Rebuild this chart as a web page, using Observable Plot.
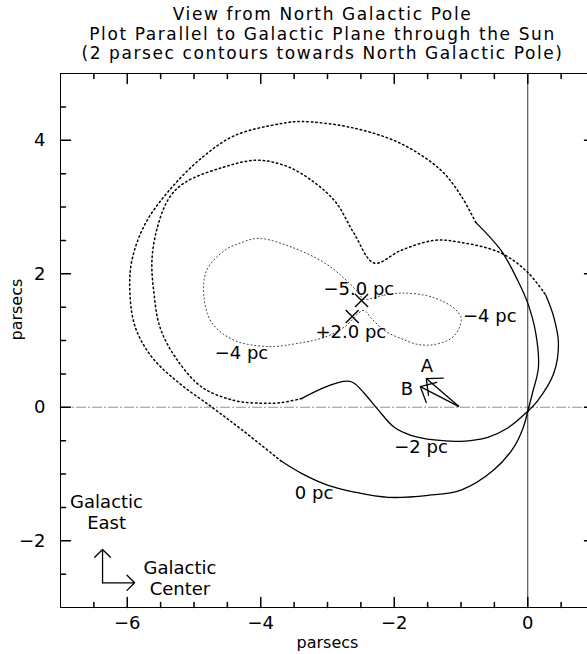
<!DOCTYPE html>
<html><head><meta charset="utf-8">
<script src="https://cdn.jsdelivr.net/npm/d3@7"></script>
<script src="https://cdn.jsdelivr.net/npm/@observablehq/plot@0.6"></script>
<style>
html,body{margin:0;padding:0;background:#fff;overflow:hidden;}
#chart svg{display:block;max-width:none !important;}
</style>
</head><body><div id="chart"></div>
<script>
const titleLines = ["View from North Galactic Pole", "Plot Parallel to Galactic Plane through the Sun", "(2 parsec contours towards North Galactic Pole)"];
const axisLabel = "parsecs";
const xDomain = [-7, 1];
const yDomain = [-3, 5];
const xTickValues = [-6, -4, -2, 0];
const yTickValues = [-2, 0, 2, 4];
const minorStep = 0.5;

// 0 pc contour
const zeroSolidBottom = [[0.00,-0.06],[-0.07,-0.31],[-0.21,-0.60],[-0.51,-0.94],[-1.00,-1.24],[-1.49,-1.32],[-2.09,-1.35],[-2.60,-1.27],[-2.99,-1.17],[-3.39,-0.99],[-3.69,-0.81]];
const zeroDotted = [[-3.69,-0.81],[-4.28,-0.34],[-4.73,0.00],[-5.22,0.36],[-5.63,0.75],[-5.88,1.20],[-5.96,1.71],[-5.93,2.20],[-5.73,2.75],[-5.37,3.25],[-4.88,3.74],[-4.39,4.07],[-3.69,4.25],[-3.39,4.28],[-2.64,4.19],[-1.90,3.95],[-1.30,3.55],[-1.00,3.17],[-0.78,2.77]];
const zeroSolidRight = [[-0.78,2.77],[-0.40,2.35],[-0.15,1.90],[0.00,1.56],[0.12,1.11],[0.16,0.60],[0.07,0.21],[0.00,-0.06]];

// -2 pc contour
const minus2SolidBottom = [[0.00,-0.06],[-0.30,-0.31],[-0.60,-0.45],[-1.00,-0.51],[-1.40,-0.49],[-1.75,-0.42],[-2.00,-0.30],[-2.24,-0.04],[-2.45,0.21],[-2.60,0.36],[-2.69,0.39],[-2.84,0.37],[-3.09,0.28],[-3.39,0.13]];
const minus2Dotted = [[-3.39,0.13],[-3.69,0.07],[-3.99,0.06],[-4.39,0.10],[-4.88,0.30],[-5.28,0.75],[-5.51,1.20],[-5.60,1.71],[-5.63,2.20],[-5.55,2.69],[-5.37,3.14],[-5.13,3.37],[-4.58,3.59],[-4.09,3.70],[-3.73,3.65],[-3.39,3.50],[-2.90,3.10],[-2.60,2.60],[-2.30,2.16],[-1.90,2.35],[-1.40,2.50],[-1.00,2.47],[-0.40,2.31],[0.00,2.02],[0.27,1.68]];
const minus2SolidRight = [[0.27,1.68],[0.39,1.35],[0.46,0.96],[0.39,0.51],[0.15,0.10],[0.00,-0.06]];

// -4 pc contour (closed)
const minus4Contour = [[-2.46,1.62],[-2.15,1.68],[-1.90,1.71],[-1.55,1.68],[-1.30,1.60],[-1.10,1.48],[-1.00,1.35],[-1.03,1.18],[-1.15,1.03],[-1.40,0.94],[-1.64,0.94],[-1.90,1.03],[-2.15,1.15],[-2.34,1.33],[-2.46,1.45],[-2.75,1.20],[-3.04,1.05],[-3.43,0.96],[-3.88,0.91],[-4.39,1.00],[-4.73,1.26],[-4.85,1.65],[-4.81,2.05],[-4.54,2.35],[-4.28,2.47],[-4.03,2.53],[-3.54,2.40],[-3.04,2.16],[-2.75,1.93],[-2.54,1.72]];

const crossMarkers = [[-2.49,1.60],[-2.63,1.36]];
const contourLabels = [
  {text: "−5.0 pc", x: -3.06, y: 1.77},
  {text: "+2.0 pc", x: -3.18, y: 1.12},
  {text: "−4 pc", x: -0.97, y: 1.36},
  {text: "−4 pc", x: -4.69, y: 0.81},
  {text: "−2 pc", x: -2.00, y: -0.60},
  {text: "0 pc", x: -3.49, y: -1.29}
];
const vectorLabels = [{text: "A", x: -1.51, y: 0.61}, {text: "B", x: -1.81, y: 0.27}];
const vectorArrows = [
  {name: "A", x1: -1.03, y1: 0.01, x2: -1.52, y2: 0.43},
  {name: "B", x1: -1.03, y1: 0.01, x2: -1.61, y2: 0.31}
];
const compassArrows = [
  {x1: -6.37, y1: -2.63, x2: -6.37, y2: -2.13},
  {x1: -6.37, y1: -2.63, x2: -5.89, y2: -2.63}
];
const compassLabels = [
  {text: "Galactic\nEast", x: -6.31, y: -1.565},
  {text: "Galactic\nCenter", x: -5.21, y: -2.56}
];

const xMinor = d3.range(xDomain[0] + minorStep, xDomain[1], minorStep).filter(v => !xTickValues.includes(v));
const yMinor = d3.range(yDomain[0] + minorStep, yDomain[1], minorStep).filter(v => !yTickValues.includes(v));
const tickShape = {draw(ctx, l) { ctx.moveTo(0, 0); ctx.lineTo(0, -l); }};
const barbAngle = 42 * Math.PI / 180;
const headShape = {draw(ctx, l) {
  const sx = l * Math.sin(barbAngle), sy = l * Math.cos(barbAngle);
  ctx.moveTo(-sx, sy); ctx.lineTo(0, 0); ctx.lineTo(sx, sy);
}};
const P = d => d[0], Q = d => d[1];
const fmt = d => d < 0 ? "−" + (-d) : String(d);
const solid = {x: P, y: Q, curve: "catmull-rom", stroke: "black", strokeWidth: 1.3};
const dotted = {x: P, y: Q, curve: "catmull-rom", stroke: "black", strokeWidth: 1.5, strokeDasharray: "1.5,3"};

function ticks(values, len) {
  return [
    Plot.vector(values.x, {x: d => d, frameAnchor: "bottom", length: len, rotate: 0, anchor: "start", shape: tickShape, stroke: "black", fill: "none"}),
    Plot.vector(values.x, {x: d => d, frameAnchor: "top", length: len, rotate: 180, anchor: "start", shape: tickShape, stroke: "black", fill: "none"}),
    Plot.vector(values.y, {y: d => d, frameAnchor: "left", length: len, rotate: 90, anchor: "start", shape: tickShape, stroke: "black", fill: "none"}),
    Plot.vector(values.y, {y: d => d, frameAnchor: "right", length: len, rotate: -90, anchor: "start", shape: tickShape, stroke: "black", fill: "none"})
  ];
}

const chart = Plot.plot({
  width: 600, height: 654,
  marginLeft: 60, marginRight: 6, marginTop: 73, marginBottom: 47,
  x: {domain: xDomain},
  y: {domain: yDomain},
  style: {fontFamily: "DejaVu Sans", fontSize: "18px", color: "black", background: "white", maxWidth: "none"},
  marks: [
    Plot.ruleY([0], {stroke: "#777", strokeWidth: 0.8, strokeDasharray: "10,2,2,2"}),
    Plot.ruleX([0], {stroke: "#333", strokeWidth: 1}),
    Plot.frame({stroke: "black"}),
    ...ticks({x: xTickValues, y: yTickValues}, 10),
    ...ticks({x: xMinor, y: yMinor}, 5),
    Plot.axisX(xTickValues, {anchor: "bottom", tickSize: 0, tickPadding: 9, tickFormat: fmt, fontSize: 18, label: null}),
    Plot.axisY(yTickValues, {anchor: "left", tickSize: 0, tickPadding: 15, tickFormat: fmt, fontSize: 18, label: null}),
    Plot.text([axisLabel], {text: d => d, frameAnchor: "bottom", dy: 40, fontSize: 16}),
    Plot.text([axisLabel], {text: d => d, frameAnchor: "left", dx: -44, rotate: -90, fontSize: 16}),
    Plot.text([titleLines.join("\n")], {text: d => d, frameAnchor: "top", dy: -40, dx: -5, lineAnchor: "middle", lineHeight: 1.15, fontSize: 17}),
    Plot.line(zeroSolidBottom, solid),
    Plot.line(zeroDotted, dotted),
    Plot.line(zeroSolidRight, solid),
    Plot.line(minus2SolidBottom, solid),
    Plot.line(minus2Dotted, dotted),
    Plot.line(minus2SolidRight, solid),
    Plot.line(minus4Contour, {x: P, y: Q, curve: "catmull-rom-closed", stroke: "#333", strokeWidth: 1, strokeDasharray: "1,2.8"}),
    Plot.dot(crossMarkers, {x: P, y: Q, symbol: "times", r: 6, stroke: "black", strokeWidth: 1.4}),
    Plot.text(contourLabels, {x: "x", y: "y", text: "text", textAnchor: "start", fontSize: 18}),
    Plot.text(vectorLabels, {x: "x", y: "y", text: "text", fontSize: 18}),
    Plot.link(vectorArrows, {x1: "x1", y1: "y1", x2: "x2", y2: "y2", strokeWidth: 1.3, stroke: "black"}),
    Plot.vector(vectorArrows, {x: "x2", y: "y2", anchor: "start", length: 17, shape: headShape,
      rotate: d => Math.atan2(d.x2 - d.x1, d.y2 - d.y1) * 180 / Math.PI, stroke: "black", strokeWidth: 1.3, fill: "none"}),
    Plot.arrow(compassArrows, {x1: "x1", y1: "y1", x2: "x2", y2: "y2", headAngle: 90, headLength: 15, strokeWidth: 1.3, stroke: "black"}),
    Plot.text(compassLabels, {x: "x", y: "y", text: "text", lineHeight: 1.17, fontSize: 18})
  ]
});
d3.select(chart).selectAll("text")
  .filter(function() { return this.textContent.startsWith(titleLines[0]); })
  .style("letter-spacing", "1.6px");
document.getElementById("chart").appendChild(chart);
</script>
</body></html>
